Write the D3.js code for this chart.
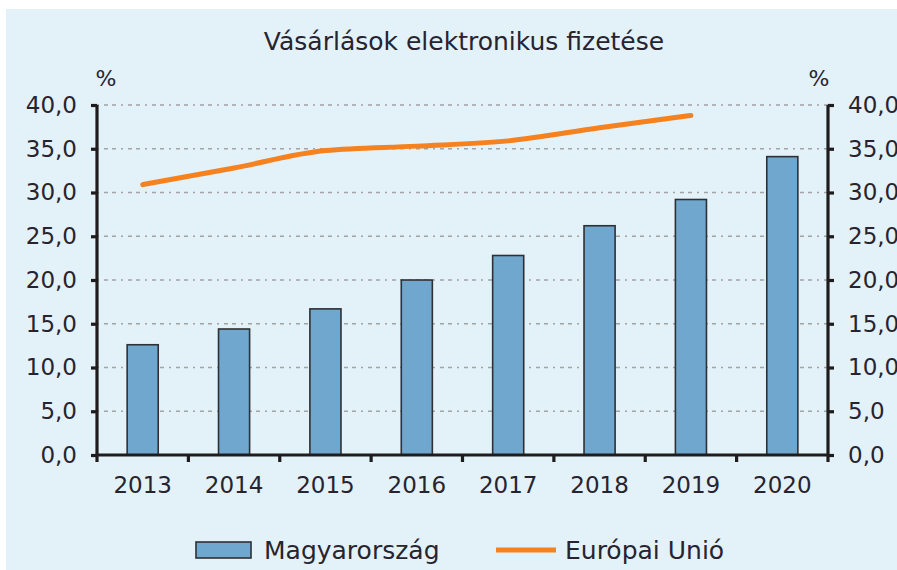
<!DOCTYPE html>
<meta charset="utf-8">
<script src="https://cdn.jsdelivr.net/npm/d3@7/dist/d3.min.js"></script>
<style>
  body { margin: 0; background: #fff; }
  text { font-family: "DejaVu Sans", sans-serif; fill: #27242f; }
</style>
<div id="chart"></div>
<script>

// data
var years = ["2013", "2014", "2015", "2016", "2017", "2018", "2019", "2020"];
var hungary = [12.6, 14.4, 16.7, 20.0, 22.8, 26.2, 29.2, 34.1];
var euYears = ["2013", "2014", "2015", "2016", "2017", "2018", "2019"];
var eu = [30.9, 32.8, 34.8, 35.3, 35.9, 37.4, 38.8];
var yTicks = [0, 5, 10, 15, 20, 25, 30, 35, 40];

var W = 897, H = 570;
var plotL = 97, plotR = 828, plotT = 105, plotB = 455;

var svg = d3.select("#chart").append("svg")
  .attr("width", W)
  .attr("height", H);

// light blue panel
svg.append("rect")
  .attr("x", 6).attr("y", 9)
  .attr("width", W - 6).attr("height", H - 9)
  .style("fill", "#e3f1f9");

var y = d3.scaleLinear().domain([0, 40]).range([plotB, plotT]);

// category slots and bars
var xSlot = d3.scaleBand().domain(years).range([plotL, plotR]).padding(0);
var xBar = d3.scaleBand().domain(years).range([plotL, plotR])
  .paddingInner(0.66).paddingOuter(0.33);

var fmt = function(d) { return d3.format(".1f")(d).replace(".", ","); };

// gridlines
svg.append("g")
  .selectAll("line")
  .data(yTicks.filter(function(d) { return d > 0; }))
  .enter()
  .append("line")
    .attr("x1", plotL).attr("x2", plotR)
    .attr("y1", function(d) { return y(d); })
    .attr("y2", function(d) { return y(d); })
    .style("stroke", "#a3a3a6")
    .style("stroke-width", 1.5)
    .style("stroke-dasharray", "2,5,4,4,4,5");

// bars
svg.append("g")
  .selectAll("rect")
  .data(years)
  .enter()
  .append("rect")
    .attr("x", function(d) { return xBar(d); })
    .attr("y", function(d, i) { return y(hungary[i]); })
    .attr("width", xBar.bandwidth())
    .attr("height", function(d, i) { return plotB - y(hungary[i]); })
    .style("fill", "#70a7cf")
    .style("stroke", "#2f3033")
    .style("stroke-width", 1.6);

// EU line
var line = d3.line()
  .x(function(d) { return xSlot(d[0]) + xSlot.bandwidth() / 2; })
  .y(function(d) { return y(d[1]); })
  .curve(d3.curveMonotoneX);

svg.append("path")
  .datum(euYears.map(function(d, i) { return [d, eu[i]]; }))
  .attr("d", line)
  .style("fill", "none")
  .style("stroke", "#f5821f")
  .style("stroke-width", 5)
  .style("stroke-linecap", "round");

// axes
var yLeft = svg.append("g")
  .attr("transform", "translate(" + plotL + ",0)")
  .call(d3.axisLeft(y).tickValues(yTicks).tickSize(6).tickPadding(14).tickFormat(fmt));

var yRight = svg.append("g")
  .attr("transform", "translate(" + plotR + ",0)")
  .call(d3.axisRight(y).tickValues(yTicks).tickSize(6).tickPadding(14).tickFormat(fmt));

var xAxis = svg.append("g")
  .attr("transform", "translate(0," + plotB + ")")
  .call(d3.axisBottom(xSlot).tickSize(0).tickPadding(22));

// boundary ticks on x axis
xAxis.selectAll(".bound")
  .data(years.concat(["end"]))
  .enter()
  .append("line")
    .attr("class", "bound")
    .attr("x1", function(d, i) { return plotL + i * xSlot.step(); })
    .attr("x2", function(d, i) { return plotL + i * xSlot.step(); })
    .attr("y1", 0).attr("y2", 7);

[yLeft, yRight, xAxis].forEach(function(g) {
  g.selectAll(".domain, line")
    .style("stroke", "#1f1c1d")
    .style("stroke-width", 3.2);
  g.select(".domain").attr("d", g === xAxis
    ? "M" + plotL + ",0H" + plotR
    : "M0," + plotB + "V" + plotT);
  g.selectAll("text")
    .style("font-family", "DejaVu Sans, sans-serif")
    .style("font-size", "23px")
    .style("fill", "#27242f");
});

// title and units
svg.append("text")
  .attr("x", 464).attr("y", 50)
  .style("text-anchor", "middle")
  .style("font-size", "25px")
  .text("Vásárlások elektronikus fizetése");

svg.append("text")
  .attr("x", 106).attr("y", 86)
  .style("text-anchor", "middle")
  .style("font-size", "22px")
  .text("%");

svg.append("text")
  .attr("x", 819).attr("y", 86)
  .style("text-anchor", "middle")
  .style("font-size", "22px")
  .text("%");

// legend
svg.append("rect")
  .attr("x", 196).attr("y", 542)
  .attr("width", 55).attr("height", 16)
  .style("fill", "#70a7cf")
  .style("stroke", "#2f3033")
  .style("stroke-width", 1.6);

svg.append("text")
  .attr("x", 264).attr("y", 559)
  .style("font-size", "25px")
  .text("Magyarország");

svg.append("line")
  .attr("x1", 496).attr("x2", 556)
  .attr("y1", 550).attr("y2", 550)
  .style("stroke", "#f5821f")
  .style("stroke-width", 5);

svg.append("text")
  .attr("x", 565).attr("y", 559)
  .style("font-size", "25px")
  .text("Európai Unió");

</script>
